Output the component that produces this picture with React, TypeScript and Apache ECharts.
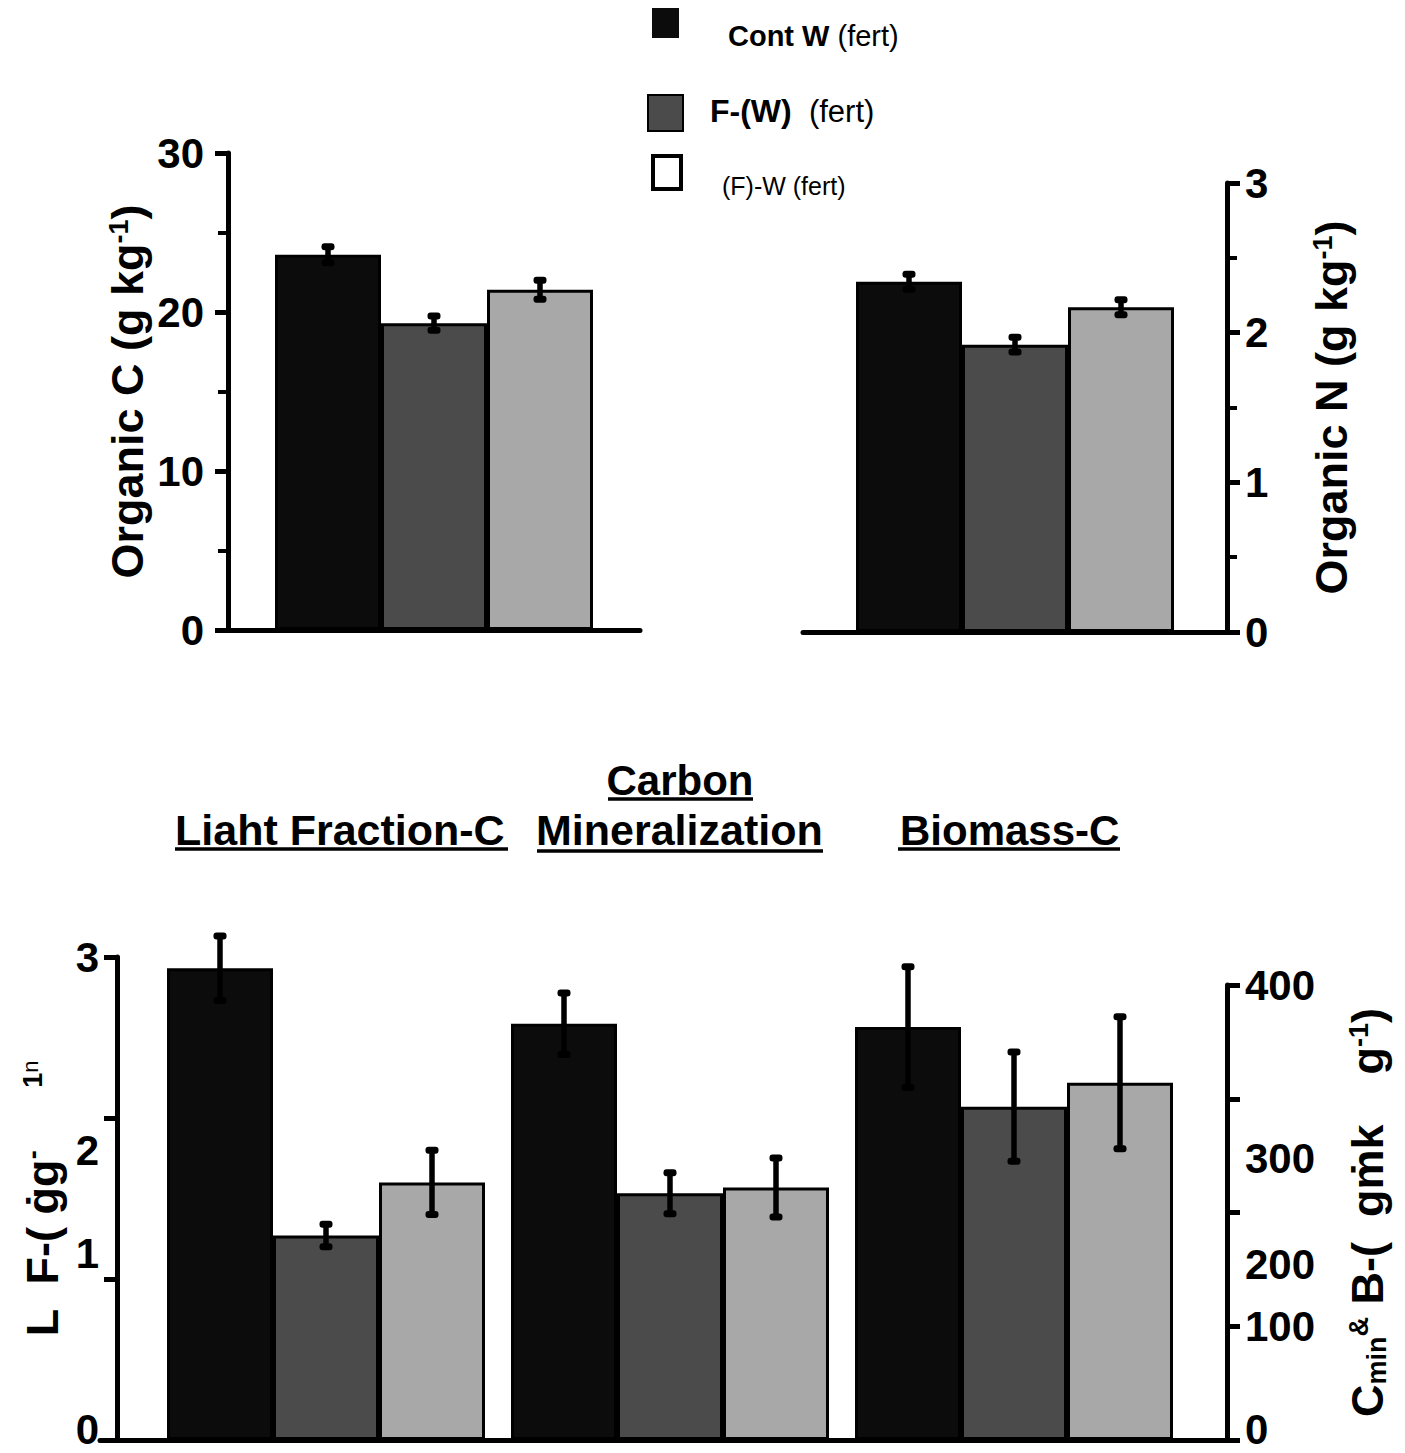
import React, { useEffect, useRef } from "react";
import * as echarts from "echarts";

// ---------- data ----------
const seriesNames = ["Cont W (fert)", "F-(W) (fert)", "(F)-W (fert)"];
const organicC = [23.6, 19.3, 21.4];
const organicCErr = [0.5, 0.45, 0.6];
const organicN = [2.34, 1.92, 2.17];
const organicNErr = [0.05, 0.05, 0.05];
const bottomCategories = ["Light Fraction-C", "Carbon Mineralization", "Biomass-C"];
const lightFractionC = [2.93, 1.27, 1.6];
const lightFractionCErr = [0.2, 0.07, 0.2];
const carbonMin = [366, 217, 222];
const carbonMinErr = [27, 18, 26];
const biomassC = [363, 293, 314];
const biomassCErr = [53, 48, 58];

// ---------- style ----------
const FONT = "'Liberation Sans', Arial, Helvetica, sans-serif";
const fills = ["#0c0c0c", "#4b4b4b", "#a8a8a8"];
const BAR_W = 106;

const renderErr = (params: any, api: any) => {
  const cat = api.value(0);
  const v = api.value(1);
  const e = api.value(2);
  const slot = api.value(3);
  const base = api.coord([cat, v]);
  const x = base[0] + (slot - 1) * BAR_W;
  const yTop = api.coord([cat, v + e])[1];
  const yBot = api.coord([cat, v - e])[1];
  return {
    type: "group",
    children: [
      { type: "line", shape: { x1: x, y1: yTop, x2: x, y2: yBot }, style: { stroke: "#000", lineWidth: 5.5 } },
      { type: "rect", shape: { x: x - 6.5, y: yTop - 3.5, width: 13, height: 7, r: 3 }, style: { fill: "#000" } },
      { type: "rect", shape: { x: x - 6.5, y: yBot - 3.5, width: 13, height: 7, r: 3 }, style: { fill: "#000" } },
    ],
  };
};

const tickLabel = { fontSize: 42, fontWeight: "bold", color: "#000", fontFamily: FONT };
const nameRich = {
  t: { fontSize: 45, fontWeight: "bold", color: "#000", fontFamily: FONT },
  sup: { fontSize: 27, fontWeight: "bold", color: "#000", fontFamily: FONT, verticalAlign: "top" },
  sub: { fontSize: 27, fontWeight: "bold", color: "#000", fontFamily: FONT, verticalAlign: "bottom", padding: [14, 0, 0, 0] },
  sm: { fontSize: 22, fontWeight: "normal", color: "#000", fontFamily: FONT, verticalAlign: "top" },
};

function valueAxis(extra: any) {
  return {
    type: "value",
    axisLine: { show: true, lineStyle: { color: "#000", width: 5 } },
    axisTick: { show: true, length: 13, lineStyle: { color: "#000", width: 5 } },
    splitLine: { show: false },
    nameLocation: "middle",
    nameRotate: 90,
    nameTextStyle: { rich: nameRich },
    ...extra,
  };
}

function catAxis(gridIndex: number, data: string[], showLine: boolean) {
  return {
    gridIndex,
    type: "category",
    data,
    axisLine: { show: showLine, onZero: false, lineStyle: { color: "#000", width: 5 } },
    axisTick: { show: false },
    axisLabel: { show: false },
    splitLine: { show: false },
  };
}

function barSeries(xi: number, values: (number | null)[], i: number) {
  return {
    type: "bar",
    name: seriesNames[i],
    xAxisIndex: xi,
    yAxisIndex: xi,
    data: values,
    barWidth: BAR_W,
    barGap: "0%",
    itemStyle: { color: fills[i], borderColor: "#000", borderWidth: 3 },
    z: 2,
  };
}

function errSeries(xi: number, rows: number[][]) {
  return {
    type: "custom",
    xAxisIndex: xi,
    yAxisIndex: xi,
    renderItem: renderErr,
    encode: { x: 0, y: 1 },
    data: rows,
    z: 5,
    silent: true,
  };
}

export default function App() {
  const ref = useRef<HTMLDivElement>(null);
  useEffect(() => {
    if (!ref.current) return;
    const chart = echarts.init(ref.current, null, { renderer: "svg" });

    const series: any[] = [];
    for (let i = 0; i < 3; i++) {
      series.push(barSeries(0, [organicC[i]], i));
      series.push(barSeries(1, [organicN[i]], i));
      series.push(barSeries(2, [lightFractionC[i], null, null], i));
      series.push(barSeries(3, [null, carbonMin[i], biomassC[i]], i));
    }
    series.push(errSeries(0, organicC.map((v, i) => [0, v, organicCErr[i], i])));
    series.push(errSeries(1, organicN.map((v, i) => [0, v, organicNErr[i], i])));
    series.push(errSeries(2, lightFractionC.map((v, i) => [0, v, lightFractionCErr[i], i])));
    series.push(
      errSeries(3, [
        ...carbonMin.map((v, i) => [1, v, carbonMinErr[i], i]),
        ...biomassC.map((v, i) => [2, v, biomassCErr[i], i]),
      ])
    );

    const legendFont = (w: string, s: number) => ({ fontSize: s, fontWeight: w, fontFamily: FONT, fill: "#000" });

    const option: any = {
      animation: false,
      backgroundColor: "#fff",
      grid: [
        { left: 228, top: 153, width: 412, height: 477 },
        { left: 803, top: 183, width: 424, height: 449 },
        { left: 154, top: 957, width: 1032, height: 483 },
        { left: 154, top: 985, width: 1032, height: 455 },
        { left: 100, top: 957, width: 1127, height: 483 },
      ],
      xAxis: [
        catAxis(0, ["Organic C"], true),
        catAxis(1, ["Organic N"], true),
        catAxis(2, bottomCategories, false),
        catAxis(3, bottomCategories, false),
        catAxis(4, ["baseline"], true),
      ],
      yAxis: [
        valueAxis({
          gridIndex: 0,
          position: "left",
          min: 0,
          max: 30,
          interval: 10,
          minorTick: { show: true, splitNumber: 2, length: 10, lineStyle: { color: "#000", width: 4 } },
          axisLabel: { ...tickLabel, margin: 24 },
          name: "{t|Organic C (g kg}{sup|-1}{t|)}",
          nameGap: 78,
        }),
        valueAxis({
          gridIndex: 1,
          position: "right",
          min: 0,
          max: 3,
          interval: 1,
          minorTick: { show: true, splitNumber: 2, length: 10, lineStyle: { color: "#000", width: 4 } },
          axisLabel: { ...tickLabel, margin: 18 },
          name: "{t|Organic N (g kg}{sup|-1}{t|)}",
          nameGap: 82,
        }),
        valueAxis({
          gridIndex: 2,
          position: "left",
          offset: 37,
          min: 0,
          max: 3,
          interval: 1,
          axisLabel: {
            ...tickLabel,
            margin: 18,
            formatter: (v: number) =>
              v === 2 ? "{dn|2}" : v === 1 ? "{up|1}" : v === 0 ? "{z|0}" : "{n|" + v + "}",
            rich: {
              n: { ...tickLabel },
              z: { ...tickLabel, padding: [0, 0, 22, 0] },
              dn: { ...tickLabel, padding: [64, 0, 0, 0] },
              up: { ...tickLabel, padding: [0, 0, 52, 0] },
            },
          },
          name: "{t|L  F-( ġg}{sup|-}{t|     }{sup|1}{sm|n}",
          nameGap: 42,
        }),
        valueAxis({
          gridIndex: 3,
          position: "right",
          offset: 41,
          min: 0,
          max: 400,
          interval: 100,
          axisLabel: {
            ...tickLabel,
            margin: 18,
            formatter: (v: number) =>
              v === 300 ? "{d3|300}" : v === 200 ? "{d2|200}" : v === 0 ? "{z|0}" : "{n|" + v + "}",
            rich: {
              n: { ...tickLabel },
              z: { ...tickLabel, padding: [0, 0, 22, 0] },
              d3: { ...tickLabel, padding: [120, 0, 0, 0] },
              d2: { ...tickLabel, padding: [104, 0, 0, 0] },
            },
          },
          name: "{t|C}{sub|min}{sup|&}{t| B-(  gṁk    g}{sup|-1}{t|)}",
          nameGap: 118,
        }),
        { gridIndex: 4, type: "value", min: 0, max: 1, show: false },
      ],
      series,
      graphic: [
        // legend
        { type: "rect", shape: { x: 652, y: 8, width: 27, height: 30 }, style: { fill: fills[0] } },
        { type: "rect", shape: { x: 648, y: 95, width: 35, height: 36 }, style: { fill: fills[1], stroke: "#000", lineWidth: 2 } },
        { type: "rect", shape: { x: 653, y: 156, width: 28, height: 33 }, style: { fill: "#fff", stroke: "#000", lineWidth: 4 } },
        {
          type: "text",
          x: 728,
          y: 36,
          style: {
            text: "{b|Cont W} {r|(fert)}",
            verticalAlign: "middle",
            textVerticalAlign: "middle",
            rich: { b: legendFont("bold", 29), r: legendFont("normal", 29) },
            ...legendFont("normal", 29),
          },
        },
        {
          type: "text",
          x: 710,
          y: 111,
          style: {
            text: "{b|F-(W)}  {r|(fert)}",
            verticalAlign: "middle",
            textVerticalAlign: "middle",
            rich: { b: legendFont("bold", 32), r: legendFont("normal", 31) },
            ...legendFont("normal", 31),
          },
        },
        {
          type: "text",
          x: 722,
          y: 186,
          style: {
            text: "(F)-W (fert)",
            verticalAlign: "middle",
            textVerticalAlign: "middle",
            ...legendFont("normal", 25),
          },
        },
        // panel titles
        {
          type: "text",
          x: 680,
          y: 780,
          style: { text: "Carbon", align: "center", textAlign: "center", verticalAlign: "middle", textVerticalAlign: "middle", ...legendFont("bold", 42) },
        },
        {
          type: "text",
          x: 175,
          y: 830,
          style: { text: "Liaht Fraction-C", verticalAlign: "middle", textVerticalAlign: "middle", ...legendFont("bold", 43) },
        },
        {
          type: "text",
          x: 536,
          y: 830,
          style: { text: "Mineralization", verticalAlign: "middle", textVerticalAlign: "middle", ...legendFont("bold", 43) },
        },
        {
          type: "text",
          x: 900,
          y: 830,
          style: { text: "Biomass-C", verticalAlign: "middle", textVerticalAlign: "middle", ...legendFont("bold", 42) },
        },
        { type: "line", shape: { x1: 608, y1: 799, x2: 753, y2: 799 }, style: { stroke: "#000", lineWidth: 3.5 } },
        { type: "line", shape: { x1: 175, y1: 849, x2: 508, y2: 849 }, style: { stroke: "#000", lineWidth: 3.5 } },
        { type: "line", shape: { x1: 537, y1: 851, x2: 823, y2: 851 }, style: { stroke: "#000", lineWidth: 3.5 } },
        { type: "line", shape: { x1: 898, y1: 849, x2: 1120, y2: 849 }, style: { stroke: "#000", lineWidth: 3.5 } },
      ],
    };
    chart.setOption(option);
    return () => chart.dispose();
  }, []);
  return <div ref={ref} style={{ position: "fixed", left: 0, top: 0, width: 1405, height: 1453, background: "#fff" }} />;
}
